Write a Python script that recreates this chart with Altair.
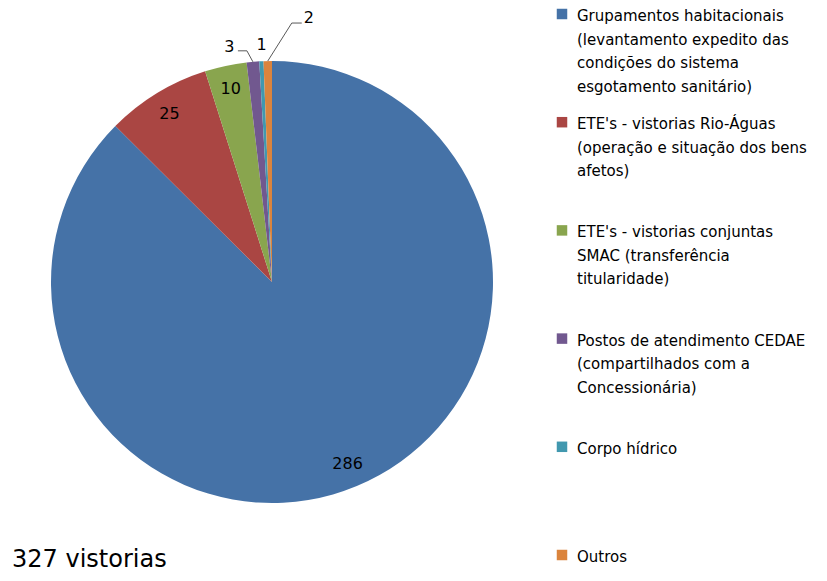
import altair as alt
import pandas as pd

categories = [
    "Grupamentos habitacionais",
    "ETE's - vistorias Rio-Águas",
    "ETE's - vistorias conjuntas SMAC",
    "Postos de atendimento CEDAE",
    "Corpo hídrico",
    "Outros",
]
values = [286, 25, 10, 3, 1, 2]
legend_lines = [
    ["Grupamentos habitacionais", "(levantamento expedito das", "condições do sistema", "esgotamento sanitário)"],
    ["ETE's - vistorias Rio-Águas", "(operação e situação dos bens", "afetos)"],
    ["ETE's - vistorias conjuntas", "SMAC (transferência", "titularidade)"],
    ["Postos de atendimento CEDAE", "(compartilhados com a", "Concessionária)"],
    ["Corpo hídrico"],
    ["Outros"],
]
colors = ["#4572A7", "#AA4643", "#89A54E", "#71588F", "#4198AF", "#DB843D"]
total_label = "327 vistorias"

df = pd.DataFrame({
    "idx": list(range(len(values))),
    "category": categories,
    "value": values,
    "legend": ["\n".join(l) for l in legend_lines],
})

FONT = "DejaVu Sans"
CX, CY, R = 264, 274, 221

color = alt.Color("category:N", scale=alt.Scale(domain=categories, range=colors), legend=None)
theta = alt.Theta("value:Q", stack=True)
order = alt.Order("idx:Q")

base = alt.Chart(df).encode(theta=theta, order=order, x=alt.value(CX), y=alt.value(CY))

arc = base.mark_arc(radius=R).encode(color=color)

inside = base.mark_text(radius=197, font=FONT, fontSize=16, color="#000").encode(
    text=alt.Text("lab:N")
).transform_calculate(lab="datum.value >= 10 ? datum.value + '' : ''")


def outside(i, radius, dx, dy):
    return base.mark_text(radius=radius, dx=dx, dy=dy, font=FONT, fontSize=16, color="#000").encode(
        text=alt.Text("lab:N")
    ).transform_calculate(lab=f"datum.idx == {i} ? datum.value + '' : ''")


o3 = outside(3, 240, -22, 4)
o1 = outside(4, 238, 1, 1)
o2 = outside(5, 264, 42, 0)

lead = (
    alt.Chart(df)
    .transform_joinaggregate(total="sum(value)")
    .transform_window(cum="sum(value)", sort=[alt.SortField("idx")], frame=[None, 0])
    .transform_calculate(
        a="(datum.cum - datum.value / 2) / datum.total * 2 * PI",
    )
    .transform_calculate(
        ex=f"{CX} + {R} * sin(datum.a)",
        ey=f"{CY} - {R} * cos(datum.a)",
    )
    .transform_filter("datum.idx == 3 || datum.idx == 5")
    .transform_calculate(
        bx="datum.ex + (datum.idx == 3 ? -6 : 24)",
        by="datum.ey + (datum.idx == 3 ? -11 : -38)",
    )
    .transform_calculate(
        cx2="datum.bx + (datum.idx == 3 ? -9 : 10)",
    )
)
rule1 = lead.mark_rule(color="#595959", strokeWidth=1).encode(
    x=alt.X("ex:Q", scale=None, axis=None), y=alt.Y("ey:Q", scale=None, axis=None),
    x2="bx:Q", y2="by:Q",
)
rule2 = lead.mark_rule(color="#595959", strokeWidth=1).encode(
    x=alt.X("bx:Q", scale=None, axis=None), y=alt.Y("by:Q", scale=None, axis=None),
    x2="cx2:Q", y2="by:Q",
)

ly = alt.Y("idx:Q", scale=alt.Scale(domain=[0, 5], range=[6, 547]), axis=None)
leg = alt.Chart(df)
sq = leg.mark_square(size=110, opacity=1).encode(x=alt.value(554), y=ly, color=color)
txt = leg.mark_text(
    align="left", baseline="line-top", lineBreak="\n", lineHeight=23.5, dy=-9,
    font=FONT, fontSize=15, color="#000",
).encode(x=alt.value(569), y=ly, text="legend:N")

title = alt.Chart(pd.DataFrame({"t": [total_label]})).mark_text(
    align="left", baseline="alphabetic", fontSize=24, font=FONT, color="#000"
).encode(x=alt.value(4), y=alt.value(559), text="t:N")

chart = (
    alt.layer(arc, inside, o3, o1, o2, rule1, rule2, sq, txt, title)
    .resolve_scale(x="independent", y="independent")
    .properties(width=811, height=565, autosize=alt.AutoSizeParams(type="none"), padding=0)
    .configure_view(stroke=None)
)

chart.save("out.html", embed_options={"renderer": "svg", "actions": False})
